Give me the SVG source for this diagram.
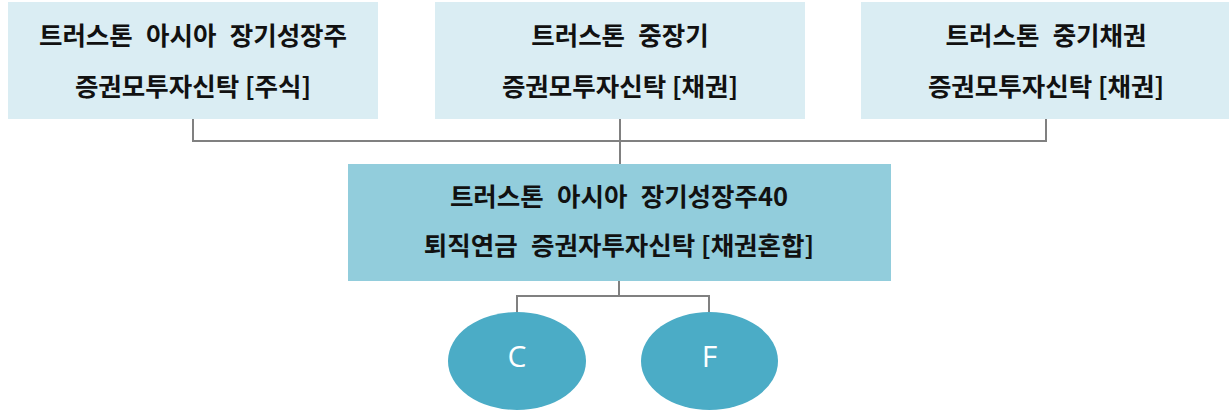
<svg xmlns="http://www.w3.org/2000/svg" width="1229" height="414" viewBox="0 0 1229 414">
<style>
.top{fill:#DAEDF3}
.mid{fill:#92CDDC}
.ell{fill:#4BACC6}
.t{font-family:"Noto Sans CJK KR","Noto Sans",sans-serif;font-weight:700;font-size:25.5px;fill:#111;text-anchor:middle}
.w{word-spacing:7.5px}
.l{font-family:"Open Sans","Liberation Sans",sans-serif;font-size:30px;fill:#fff;text-anchor:middle}
.c{fill:none;stroke:#808080;stroke-width:2}
</style>
<rect width="1229" height="414" fill="#fff"/>
<g id="connectors">
<path class="c" d="M193 119V141H1046V119M620 119V164"/>
<path class="c" d="M619 281V296M517 312V296H709V312"/>
</g>
<g id="n1">
<rect class="top" x="8" y="2" width="370" height="117"/>
<text class="t w" x="193" y="45">트러스톤 아시아 장기성장주</text>
<text class="t" x="193" y="96">증권모투자신탁 [주식]</text>
</g>
<g id="n2">
<rect class="top" x="435" y="2" width="370" height="117"/>
<text class="t w" x="620" y="45">트러스톤 중장기</text>
<text class="t" x="620" y="96">증권모투자신탁 [채권]</text>
</g>
<g id="n3">
<rect class="top" x="861" y="2" width="368" height="117"/>
<text class="t w" x="1046" y="45">트러스톤 중기채권</text>
<text class="t" x="1046" y="96">증권모투자신탁 [채권]</text>
</g>
<g id="n4">
<rect class="mid" x="348" y="164" width="543" height="117"/>
<text class="t w" x="619" y="206">트러스톤 아시아 장기성장주40</text>
<text class="t" x="619" y="255">퇴직연금<tspan class="w"> </tspan>증권자투자신탁 [채권혼합]</text>
</g>
<g id="nC">
<ellipse class="ell" cx="517" cy="361" rx="69" ry="49"/>
<text class="l" x="517" y="367">C</text>
</g>
<g id="nF">
<ellipse class="ell" cx="709.5" cy="361" rx="68.5" ry="49"/>
<text class="l" x="709.5" y="367">F</text>
</g>
</svg>
